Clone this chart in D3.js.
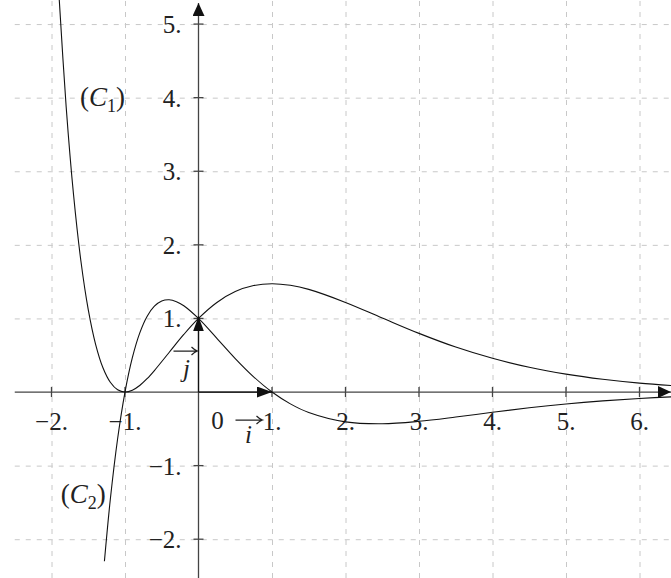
<!DOCTYPE html>
<meta charset="utf-8">
<html lang="en">
<head>
    <title>Curves C1 and C2</title>
    <script src="https://d3js.org/d3.v7.min.js"></script>
    <style>
        body { margin: 0; background: #fff; }
        .grid line { stroke: #c8c8c8; stroke-width: 1; stroke-dasharray: 5,6; }
        .grid path { display: none; }
        .axis { stroke: #444; stroke-width: 1.3; fill: none; }
        .curve { stroke: #111; stroke-width: 1.1; fill: none; }
    </style>
</head>
<body>
<div id="my_dataviz"></div>
<script>

// window size
var W = 671, H = 578;

// what the axes show
var xDomain = [-2.5, 6.5];
var yDomain = [-2.5, 5.3];
var xTicks = [-2, -1, 1, 2, 3, 4, 5, 6];
var yTicks = [-2, -1, 1, 2, 3, 4, 5];

// curve (C1), points
var c1X = [-1.9, -1.8, -1.7, -1.6, -1.5, -1.4, -1.3, -1.2, -1.1, -1.0, -0.9, -0.8, -0.7, -0.6, -0.4, -0.2,
           0, 0.25, 0.5, 0.75, 1, 1.25, 1.5, 2, 2.5, 3, 3.5, 4, 4.5, 5, 5.5, 6, 6.5];
var c1Y = [5.42, 3.87, 2.68, 1.78, 1.12, 0.649, 0.330, 0.133, 0.030, 0, 0.025, 0.089, 0.181, 0.292, 0.537, 0.782,
           1, 1.217, 1.365, 1.447, 1.472, 1.450, 1.395, 1.218, 1.006, 0.797, 0.611, 0.458, 0.336, 0.243, 0.173, 0.121, 0.085];

// curve (C2)
var c2X = [-1.28, -1.2, -1.1, -1.0, -0.9, -0.8, -0.7, -0.6, -0.5, -0.4, -0.3, -0.2,
           0, 0.25, 0.5, 0.75, 1, 1.25, 1.5, 2, 2.5, 3, 3.5, 4, 4.5, 5, 5.5, 6, 6.5];
var c2Y = [-2.30, -1.461, -0.631, 0, 0.467, 0.801, 1.027, 1.166, 1.237, 1.253, 1.228, 1.173,
           1, 0.730, 0.455, 0.207, 0, -0.161, -0.279, -0.406, -0.431, -0.398, -0.340, -0.275, -0.214, -0.162, -0.120, -0.087, -0.062];

var svg = d3.select("#my_dataviz")
  .append("svg")
    .attr("width", W)
    .attr("height", H)
    .attr("font-family", "'Liberation Serif', serif")
    .attr("fill", "#222");

var x = d3.scaleLinear().domain(xDomain).range([14.75, 676.25]);
var y = d3.scaleLinear().domain(yDomain).range([576, 2]);

var defs = svg.append("defs");
defs.append("clipPath").attr("id", "clip")
  .append("rect").attr("width", W).attr("height", H);

// arrow heads: axis ends and unit vectors
function marker(id, len, wid, col) {
  defs.append("marker")
      .attr("id", id)
      .attr("viewBox", "0 0 " + len + " " + wid)
      .attr("refX", len).attr("refY", wid / 2)
      .attr("markerWidth", len).attr("markerHeight", wid)
      .attr("markerUnits", "userSpaceOnUse")
      .attr("orient", "auto")
    .append("path")
      .attr("d", "M0,0 L" + len + "," + (wid / 2) + " L0," + wid + " Z")
      .attr("fill", col);
}
marker("axisArrow", 13, 12, "#111");
marker("unitArrow", 15, 11, "#111");

// dashed grid
svg.append("g").attr("class", "grid")
    .attr("transform", "translate(0," + H + ")")
    .call(d3.axisBottom(x).tickValues(xTicks).tickSize(-H).tickFormat(""));
svg.append("g").attr("class", "grid")
    .attr("transform", "translate(" + x(xDomain[0]) + ",0)")
    .call(d3.axisLeft(y).tickValues(yTicks).tickSize(-(W - x(xDomain[0]))).tickFormat(""));

// axes
svg.append("line").attr("class", "axis")
    .attr("x1", x(xDomain[0])).attr("x2", W)
    .attr("y1", y(0)).attr("y2", y(0))
    .attr("marker-end", "url(#axisArrow)");
svg.append("line").attr("class", "axis")
    .attr("x1", x(0)).attr("x2", x(0))
    .attr("y1", H).attr("y2", 3)
    .attr("marker-end", "url(#axisArrow)");

// small tick marks on the axes
svg.append("g").selectAll("line").data(xTicks).enter().append("line")
    .attr("class", "axis")
    .attr("x1", function (d) { return x(d); }).attr("x2", function (d) { return x(d); })
    .attr("y1", y(0) - 5).attr("y2", y(0) + 5);
svg.append("g").selectAll("line").data(yTicks).enter().append("line")
    .attr("class", "axis")
    .attr("x1", x(0) - 5).attr("x2", x(0) + 5)
    .attr("y1", function (d) { return y(d); }).attr("y2", function (d) { return y(d); });

var fmt = function (d) { return (d < 0 ? "\u2212" : "") + Math.abs(d) + "."; };

// tick labels
svg.append("g").selectAll("text").data(xTicks).enter().append("text")
    .attr("x", function (d) { return x(d); })
    .attr("y", y(0) + 38)
    .attr("text-anchor", "middle")
    .style("font-size", "25px")
    .text(fmt);
svg.append("g").selectAll("text").data(yTicks).enter().append("text")
    .attr("x", x(0) - 17)
    .attr("y", function (d) { return y(d) + 9; })
    .attr("text-anchor", "end")
    .style("font-size", "25px")
    .text(fmt);
svg.append("text")
    .attr("x", x(0) + 19).attr("y", y(0) + 37)
    .attr("text-anchor", "middle")
    .style("font-size", "25px")
    .text("0");

// the curves
var line = d3.line()
    .x(function (d) { return x(d[0]); })
    .y(function (d) { return y(d[1]); })
    .curve(d3.curveCatmullRom);

var g = svg.append("g").attr("clip-path", "url(#clip)");
g.append("path").attr("class", "curve")
    .attr("d", line(d3.zip(c1X, c1Y)));
g.append("path").attr("class", "curve")
    .attr("d", line(d3.zip(c2X, c2Y)));

// unit vectors i and j
svg.append("line")
    .attr("x1", x(0)).attr("y1", y(0)).attr("x2", x(1)).attr("y2", y(0))
    .attr("stroke", "#111").attr("stroke-width", 1.2)
    .attr("marker-end", "url(#unitArrow)");
svg.append("line")
    .attr("x1", x(0)).attr("y1", y(0)).attr("x2", x(0)).attr("y2", y(1) - 2)
    .attr("stroke", "#111").attr("stroke-width", 1.2)
    .attr("marker-end", "url(#unitArrow)");

// vector letters with their little arrows on top
function vecLabel(cx, base, letter, ax1, ax2, ay) {
  svg.append("text")
      .attr("x", cx).attr("y", base)
      .attr("text-anchor", "middle")
      .style("font-size", "25px").style("font-style", "italic")
      .text(letter);
  svg.append("path")
      .attr("d", "M" + ax1 + "," + ay + " L" + ax2 + "," + ay +
                 " M" + (ax2 - 6) + "," + (ay - 4) + " Q" + (ax2 - 3) + "," + (ay - 1) + " " + ax2 + "," + ay +
                 " Q" + (ax2 - 3) + "," + (ay + 1) + " " + (ax2 - 6) + "," + (ay + 4))
      .attr("stroke", "#222").attr("stroke-width", 1.2).attr("fill", "none");
}
vecLabel(x(0) + 50, y(0) + 51, "i", x(0) + 37, x(0) + 64, y(0) + 28);
vecLabel(x(0) - 12, y(0) - 15, "j", x(0) - 25, x(0) - 1, y(0) - 41);

// curve names
function curveName(px, py, sub) {
  var t = svg.append("text").attr("x", px).attr("y", py).style("font-size", "27px");
  t.append("tspan").text("(");
  t.append("tspan").style("font-style", "italic").text("C");
  t.append("tspan").attr("dy", 6).style("font-size", "18px").text(sub);
  t.append("tspan").attr("dy", -6).text(")");
}
curveName(x(-1.6) - 1, y(4) + 8, "1");
curveName(x(-1.9) + 2, y(-1) + 37, "2");

</script>
</body>
</html>
